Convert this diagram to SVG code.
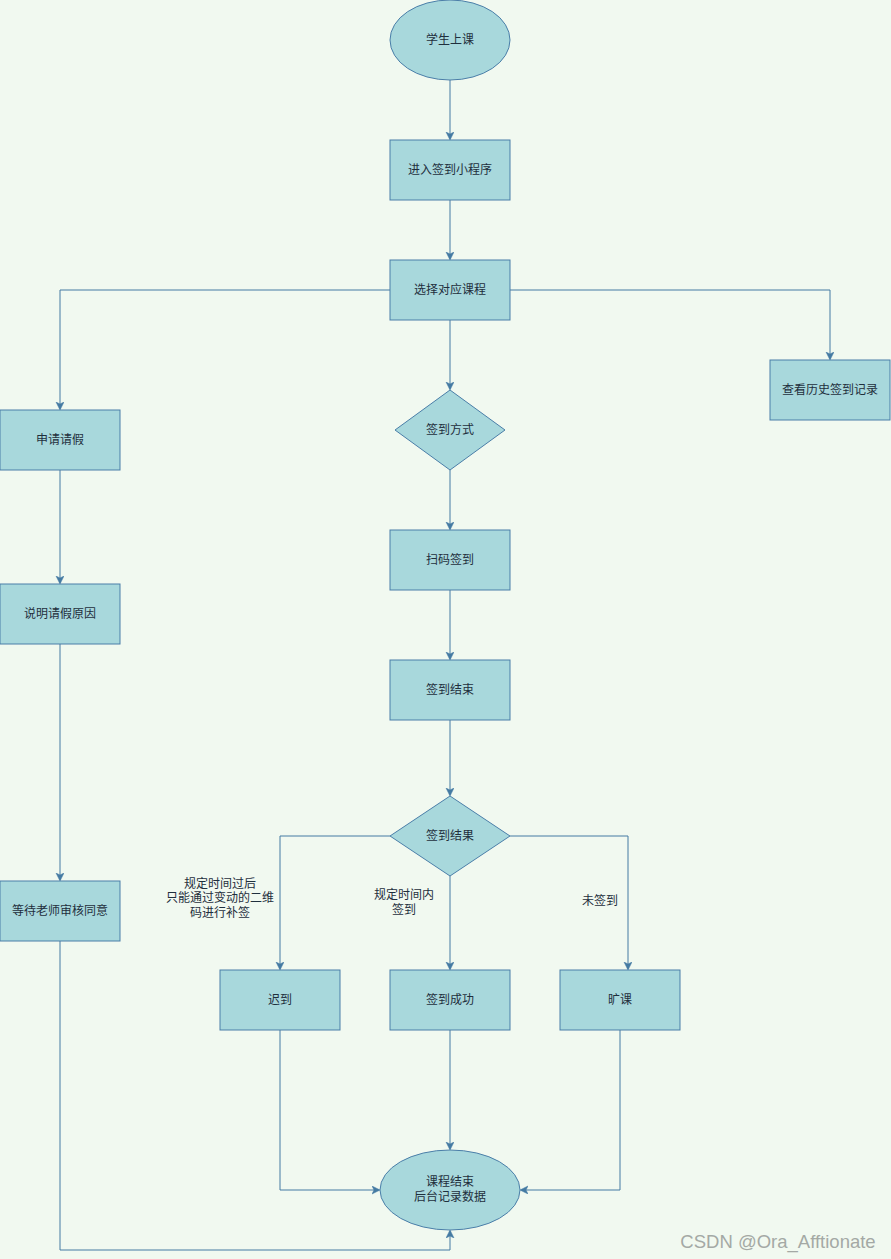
<svg xmlns="http://www.w3.org/2000/svg" width="891" height="1259" viewBox="0 0 891 1259">
<defs>
<marker id="arr" markerWidth="10" markerHeight="10" refX="7" refY="4" orient="auto" markerUnits="userSpaceOnUse">
<path d="M0,0 L8,4 L0,8 L2,4 Z" fill="#457ba3" stroke="#457ba3" stroke-width="0.5"/>
</marker>
<style>
.n{fill:#a8d8dc;stroke:#4a7ea8;stroke-width:1}
.t{font-family:"Liberation Sans","Noto Sans CJK SC",sans-serif;font-size:12px;fill:#1f2f3d;text-anchor:middle;dominant-baseline:central}
.c{fill:none;stroke:#457ba3;stroke-width:1;marker-end:url(#arr)}
</style>
</defs>
<rect x="0" y="0" width="891" height="1259" fill="#f1f9f0"/>
<g id="connectors">
<path class="c" d="M450,80 L450,139"/>
<path class="c" d="M450,200 L450,259"/>
<path class="c" d="M450,320 L450,389"/>
<path class="c" d="M390,290 L60,290 L60,409"/>
<path class="c" d="M510,290 L830,290 L830,359"/>
<path class="c" d="M450,470 L450,529"/>
<path class="c" d="M450,590 L450,659"/>
<path class="c" d="M450,720 L450,795"/>
<path class="c" d="M390,836 L280,836 L280,969"/>
<path class="c" d="M450,876 L450,969"/>
<path class="c" d="M510,836 L628,836 L628,969"/>
<path class="c" d="M60,470 L60,583"/>
<path class="c" d="M60,644 L60,880"/>
<path class="c" d="M60,941 L60,1250 L450,1250 L450,1231"/>
<path class="c" d="M280,1030 L280,1190 L379,1190"/>
<path class="c" d="M450,1030 L450,1149"/>
<path class="c" d="M620,1030 L620,1190 L521,1190"/>
</g>
<g id="label-late"><text class="t" x="220" y="884">规定时间过后</text><text class="t" x="220" y="898">只能通过变动的二维</text><text class="t" x="220" y="913">码进行补签</text></g>
<g id="label-ontime"><text class="t" x="404" y="895">规定时间内</text><text class="t" x="404" y="910">签到</text></g>
<g id="label-absent"><text class="t" x="600" y="901">未签到</text></g>
<g id="n-start"><ellipse class="n" cx="450" cy="40" rx="60" ry="40"/><text class="t" x="450" y="40">学生上课</text></g>
<g id="n-enter"><rect class="n" x="390" y="140" width="120" height="60"/><text class="t" x="450" y="170">进入签到小程序</text></g>
<g id="n-select"><rect class="n" x="390" y="260" width="120" height="60"/><text class="t" x="450" y="290">选择对应课程</text></g>
<g id="n-method"><path class="n" d="M450,390 L505,430 L450,470 L395,430 Z"/><text class="t" x="450" y="430">签到方式</text></g>
<g id="n-scan"><rect class="n" x="390" y="530" width="120" height="60"/><text class="t" x="450" y="560">扫码签到</text></g>
<g id="n-end"><rect class="n" x="390" y="660" width="120" height="60"/><text class="t" x="450" y="690">签到结束</text></g>
<g id="n-result"><path class="n" d="M450,796 L510,836 L450,876 L390,836 Z"/><text class="t" x="450" y="836">签到结果</text></g>
<g id="n-late"><rect class="n" x="220" y="970" width="120" height="60"/><text class="t" x="280" y="1000">迟到</text></g>
<g id="n-success"><rect class="n" x="390" y="970" width="120" height="60"/><text class="t" x="450" y="1000">签到成功</text></g>
<g id="n-absent"><rect class="n" x="560" y="970" width="120" height="60"/><text class="t" x="620" y="1000">旷课</text></g>
<g id="n-finish"><ellipse class="n" cx="450" cy="1190" rx="70" ry="40"/><text class="t" x="450" y="1182">课程结束</text><text class="t" x="450" y="1197">后台记录数据</text></g>
<g id="n-leave"><rect class="n" x="0" y="410" width="120" height="60"/><text class="t" x="60" y="440">申请请假</text></g>
<g id="n-reason"><rect class="n" x="0" y="584" width="120" height="60"/><text class="t" x="60" y="614">说明请假原因</text></g>
<g id="n-wait"><rect class="n" x="0" y="881" width="120" height="60"/><text class="t" x="60" y="911">等待老师审核同意</text></g>
<g id="n-history"><rect class="n" x="770" y="360" width="120" height="60"/><text class="t" x="830" y="390">查看历史签到记录</text></g>
<text x="778" y="1241" font-family="Liberation Sans,sans-serif" font-size="18.5" fill="#a4a9a5" text-anchor="middle" dominant-baseline="central">CSDN @Ora_Afftionate</text>
</svg>
